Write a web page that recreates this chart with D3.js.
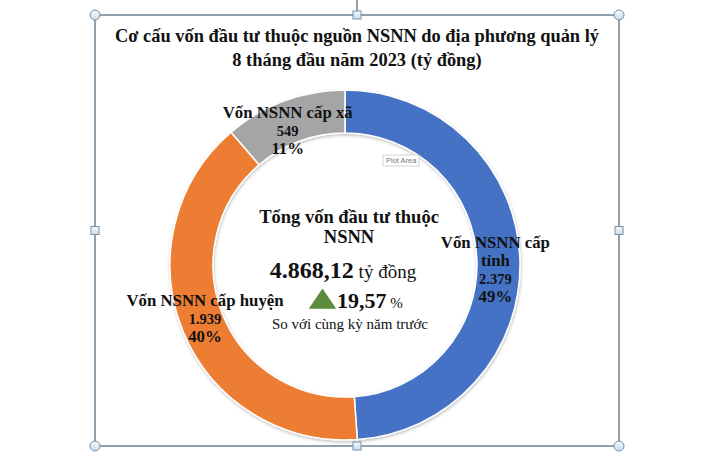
<!DOCTYPE html>
<html>
<head>
<meta charset="utf-8">
<script src="https://cdn.jsdelivr.net/npm/d3@7"></script>
<style>
  html, body { margin: 0; padding: 0; background: #fff; }
  svg { display: block; }
  text { font-family: "Liberation Serif", "Times New Roman", serif; fill: #111; }
</style>
</head>
<body>
<svg id="chart" width="728" height="464"></svg>
<script>
// Chart data
const titleLines = [
  "Cơ cấu vốn đầu tư thuộc nguồn NSNN do địa phương quản lý",
  "8 tháng đầu năm 2023 (tỷ đồng)"
];
const categories = ["Vốn NSNN cấp tỉnh", "Vốn NSNN cấp huyện", "Vốn NSNN cấp xã"];
const categoryLines = [["Vốn NSNN cấp", "tỉnh"], ["Vốn NSNN cấp huyện"], ["Vốn NSNN cấp xã"]];
const values = [2379, 1939, 549];
const valueLabels = ["2.379", "1.939", "549"];
const percentLabels = ["49%", "40%", "11%"];
const colors = ["#4472c4", "#ed7d31", "#a5a5a5"];

const totalLines = ["Tổng vốn đầu tư thuộc", "NSNN"];
const totalValue = "4.868,12";
const totalUnit = " tỷ đồng";
const growthValue = "19,57";
const growthUnit = " %";
const growthNote = "So với cùng kỳ năm trước";

const svg = d3.select("#chart");

// Selection frame of the chart object
const frame = { x0: 95, y0: 15, x1: 619, y1: 446 };
const frameColor = "#566e82";

const defs = svg.append("defs");
const grad = defs.append("linearGradient").attr("id", "handleFill")
  .attr("x1", 0).attr("y1", 0).attr("x2", 0).attr("y2", 1);
grad.append("stop").attr("offset", "0%").attr("stop-color", "#f4f9fd");
grad.append("stop").attr("offset", "100%").attr("stop-color", "#c9def0");

const shadow = defs.append("filter").attr("id", "ringShadow")
  .attr("x", "-10%").attr("y", "-10%").attr("width", "120%").attr("height", "120%");
shadow.append("feDropShadow").attr("dx", 0.5).attr("dy", 1.5)
  .attr("stdDeviation", 1.6).attr("flood-color", "#000").attr("flood-opacity", 0.26);

// Title
const title = svg.append("g");
title.selectAll("text").data(titleLines).join("text")
  .attr("x", 357).attr("y", (d, i) => 42 + i * 24)
  .attr("text-anchor", "middle")
  .style("font-weight", "bold").style("font-size", "18.4px")
  .text(d => d);

// Donut
const cx = 345, cy = 265, rOuter = 175, rInner = 132;
const pie = d3.pie().sort(null).value(d => d.value);
const arcs = pie(values.map((v, i) => ({ value: v, i })));
const arc = d3.arc().innerRadius(rInner).outerRadius(rOuter);

const ring = svg.append("g").attr("transform", `translate(${cx},${cy})`);
ring.append("g").attr("filter", "url(#ringShadow)")
  .selectAll("path").data(arcs).join("path")
  .attr("d", arc)
  .attr("fill", d => colors[d.data.i])
  .attr("stroke", "#fff").attr("stroke-width", 1.5);

// Data labels at each segment's centroid
const labelShift = [[-3, 10], [2, -4], [-4, 10]];
const lineGap = 18;
const labels = svg.append("g");
arcs.forEach(d => {
  const i = d.data.i;
  const [lx, ly] = arc.centroid(d);
  const lines = categoryLines[i].map(t => ({ t, size: 16.8 }))
    .concat([{ t: valueLabels[i], size: 14.5 }, { t: percentLabels[i], size: 16.8 }]);
  const top = cy + ly + labelShift[i][1] - (lines.length - 1) * lineGap / 2 + 5;
  labels.selectAll(null).data(lines).join("text")
    .attr("x", cx + lx + labelShift[i][0]).attr("y", (l, k) => top + k * lineGap)
    .attr("text-anchor", "middle")
    .style("font-weight", "bold").style("font-size", l => l.size + "px")
    .text(l => l.t);
});

// Centre summary
const centre = svg.append("g");
centre.selectAll(null).data(totalLines).join("text")
  .attr("x", 349).attr("y", (d, i) => 223 + i * 20)
  .attr("text-anchor", "middle")
  .style("font-weight", "bold").style("font-size", "18.5px")
  .text(d => d);

const totalText = centre.append("text").attr("x", 343).attr("y", 278).attr("text-anchor", "middle");
totalText.append("tspan").style("font-weight", "bold").style("font-size", "24px").text(totalValue);
totalText.append("tspan").style("font-size", "19px").text(totalUnit);

const tri = d3.symbol().type(d3.symbolTriangle).size(260);
centre.append("path").attr("d", tri())
  .attr("transform", "translate(322.5,302) scale(1.12,0.95)")
  .attr("fill", "#5a8c3c");

const growthText = centre.append("text").attr("x", 337).attr("y", 308);
growthText.append("tspan").style("font-weight", "bold").style("font-size", "22px").text(growthValue);
growthText.append("tspan").style("font-size", "15px").text(growthUnit);

centre.append("text").attr("x", 350).attr("y", 329).attr("text-anchor", "middle")
  .style("font-size", "15px").text(growthNote);

// Hover tip over the plot area
const tip = svg.append("g").attr("transform", "translate(383,155)");
tip.append("rect").attr("width", 36).attr("height", 11)
  .attr("fill", "#fff").attr("stroke", "#c8c8c8").attr("stroke-width", 0.8);
tip.append("text").attr("x", 3).attr("y", 8.3)
  .style("font-family", "'Liberation Sans', Arial, sans-serif").style("font-size", "7.5px")
  .style("fill", "#777").text("Plot Area");

// Frame lines and handles
const fr = svg.append("g");
const mx = (frame.x0 + frame.x1) / 2, my = (frame.y0 + frame.y1) / 2;
fr.append("line").attr("x1", mx).attr("x2", mx)
  .attr("y1", 0).attr("y2", frame.y0)
  .attr("stroke", frameColor).attr("stroke-width", 1.3);
fr.append("rect")
  .attr("x", frame.x0).attr("y", frame.y0)
  .attr("width", frame.x1 - frame.x0).attr("height", frame.y1 - frame.y0)
  .attr("fill", "none").attr("stroke", frameColor).attr("stroke-width", 1.3);

const corners = [[frame.x0, frame.y0], [frame.x1, frame.y0], [frame.x0, frame.y1], [frame.x1, frame.y1]];
const mids = [[mx, frame.y0], [mx, frame.y1], [frame.x0, my], [frame.x1, my]];
fr.selectAll("circle").data(corners).join("circle")
  .attr("cx", d => d[0]).attr("cy", d => d[1]).attr("r", 5)
  .attr("fill", "url(#handleFill)").attr("stroke", "#7a8f9f").attr("stroke-width", 1);
fr.selectAll("rect.mid").data(mids).join("rect").attr("class", "mid")
  .attr("x", d => d[0] - 4).attr("y", d => d[1] - 4).attr("width", 8).attr("height", 8)
  .attr("fill", "url(#handleFill)").attr("stroke", "#7a8f9f").attr("stroke-width", 1);
</script>
</body>
</html>
